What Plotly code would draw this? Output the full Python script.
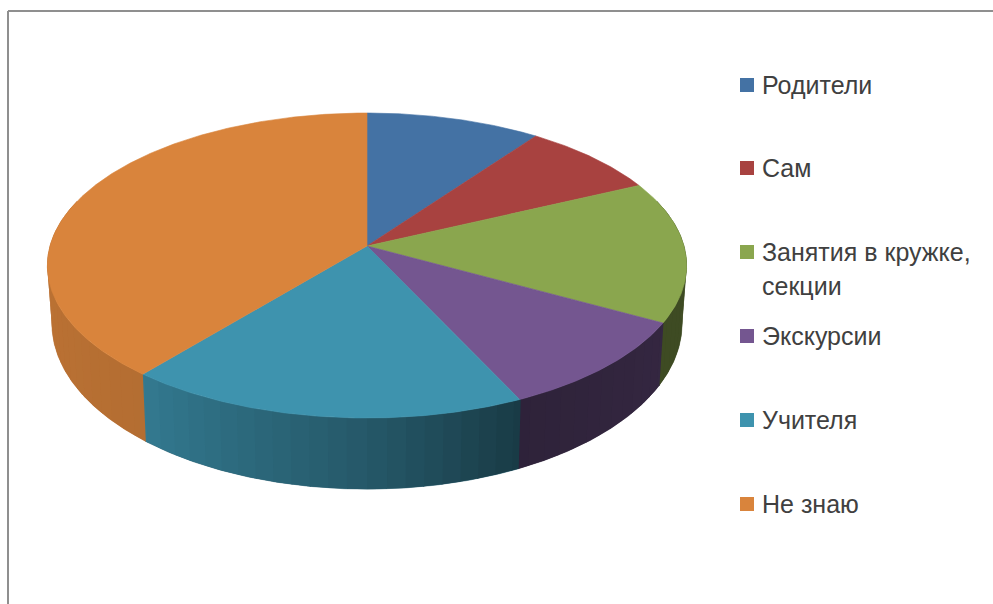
import numpy as np
import plotly.graph_objects as go

# --- data -------------------------------------------------------------
categories = ["Родители", "Сам", "Занятия в кружке,<br>секции", "Экскурсии", "Учителя", "Не знаю"]
values = [10, 8, 15, 10, 18, 39]
colors = ["#4472A4", "#A84240", "#8AA64E", "#745690", "#3E93AE", "#D9843C"]

# --- projection of the tilted disc (pixel space of the 993x604 page) ---
W, H = 993, 604
TOP = dict(cx=367, cy=246, rx=317, ry=150, k=0.128)
BOT = dict(cx=367, cy=302, rx=312.5, ry=163, k=0.129)


def project(theta_deg, r, p):
    t = np.radians(theta_deg)
    u, v = r * np.sin(t), -r * np.cos(t)
    d = 1 - p["k"] * v
    return p["cx"] + p["rx"] * u / d, p["cy"] + p["ry"] * v / d


# wall brightness by angle
SHADE_T = [70, 118, 155, 180, 220, 270, 290]
SHADE_F = [0.45, 0.45, 0.40, 0.60, 0.83, 0.87, 0.87]


def shade(hex_color, f):
    rgb = [int(hex_color[i:i + 2], 16) for i in (1, 3, 5)]
    return "rgb({},{},{})".format(*[int(round(c * f)) for c in rgb])


def wall(s, e, c, n=4, width=0.0):
    th = np.linspace(s, e, n)
    xt, yt = project(th, 1, TOP)
    xb, yb = project(th[::-1], 1, BOT)
    return go.Scatter(
        x=np.r_[xt, xb, xt[0]], y=np.r_[yt, yb, yt[0]], mode="lines",
        fill="toself", fillcolor=c, line=dict(color=c, width=width),
        hoverinfo="skip", showlegend=False)


edges = np.concatenate([[0], np.cumsum(values)]) * 360.0 / sum(values)
fig = go.Figure()
WALL_FROM, WALL_TO = 72, 288

# solid base under the bands, so no hairline between bands can show white
for i, (s, e) in enumerate(zip(edges[:-1], edges[1:])):
    s2, e2 = max(s, WALL_FROM), min(e, WALL_TO)
    if e2 > s2:
        f = float(np.interp((s2 + e2) / 2, SHADE_T, SHADE_F))
        fig.add_trace(wall(s2, e2, shade(colors[i], f), n=int(e2 - s2) * 2 + 4, width=0.5))

# shaded bands, painted from the silhouette inward to the front
BAND = 3.0
OVER = 0.2
band_starts = np.arange(WALL_FROM, WALL_TO, BAND)
band_order = sorted(band_starts, key=lambda a: -abs(a + BAND / 2 - 180))
for a in band_order:
    cuts = [a] + [e for e in edges if a < e < a + BAND] + [a + BAND]
    outward_left = a + BAND / 2 < 180
    for s, e in zip(cuts[:-1], cuts[1:]):
        i = int(np.searchsorted(edges, (s + e) / 2) - 1)
        f = float(np.interp(a + BAND / 2, SHADE_T, SHADE_F))
        s2, e2 = (s - OVER, e) if outward_left else (s, e + OVER)
        fig.add_trace(wall(s2, e2, shade(colors[i], f)))

# top face slices
for name, val, col, s, e in zip(categories, values, colors, edges[:-1], edges[1:]):
    th = np.linspace(s, e, max(int(e - s) * 2, 8))
    xs, ys = project(th, 1, TOP)
    x0, y0 = project(0.0, 0, TOP)
    fig.add_trace(go.Scatter(
        x=np.r_[x0, xs, x0], y=np.r_[y0, ys, y0], mode="lines",
        fill="toself", fillcolor=col, line=dict(color=col, width=0.6),
        name=name.replace("<br>", " "), text=f"{name.replace('<br>', ' ')}: {val}",
        hoverinfo="text", showlegend=False))

# legend
LEG_Y = [85, 168, 252, 336, 420, 504]
LINE_PITCH = 34
fig.add_trace(go.Scatter(
    x=[747] * len(categories), y=LEG_Y, mode="markers",
    marker=dict(symbol="square", size=14, color=colors, line=dict(width=0)),
    hoverinfo="skip", showlegend=False))
for name, y in zip(categories, LEG_Y):
    for j, line in enumerate(name.split("<br>")):
        fig.add_annotation(
            x=760, y=y + j * LINE_PITCH, xref="x", yref="y", text=line,
            showarrow=False, xanchor="left", yanchor="middle", align="left",
            font=dict(family="Liberation Sans, Arial, sans-serif", size=25, color="#404040"))

# chart frame: only top and left edges are inside the crop
for sh in (dict(x0=8, x1=W, y0=11, y1=11), dict(x0=8, x1=8, y0=11, y1=H)):
    fig.add_shape(type="line", xref="x", yref="y", line=dict(color="#8F8F8F", width=2), **sh)

fig.update_layout(
    width=W, height=H, margin=dict(l=0, r=0, t=0, b=0),
    paper_bgcolor="white", plot_bgcolor="white", showlegend=False,
    xaxis=dict(range=[0, W], visible=False, fixedrange=True),
    yaxis=dict(range=[H, 0], visible=False, fixedrange=True),
)
fig.write_html("out.html", config={"displayModeBar": False},
               post_script="document.body.style.margin='0';document.body.style.overflow='hidden';")
